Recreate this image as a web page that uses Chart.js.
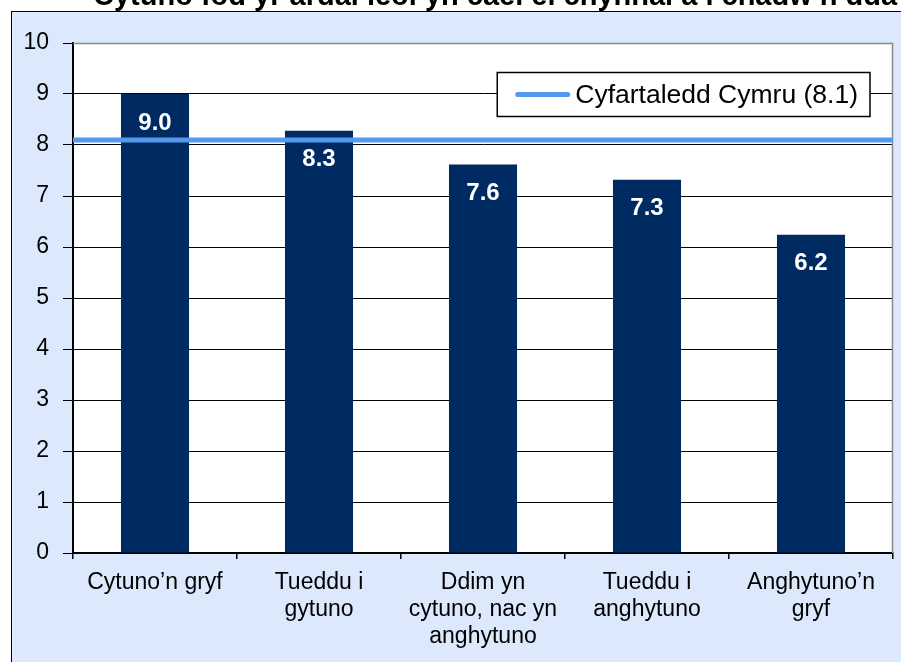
<!DOCTYPE html>
<html>
<head>
<meta charset="utf-8">
<script src="https://cdn.jsdelivr.net/npm/chart.js@4.4.1/dist/chart.umd.min.js"></script>
<style>
  html, body { margin: 0; padding: 0; background: #ffffff; overflow: hidden; }
  #frame { position: absolute; left: 11px; top: 11px; width: 900px; height: 660px;
           background: #DCE9FC; border-left: 1.5px solid #000; border-top: 1.5px solid #000; }
  #wrap { position: absolute; left: 0; top: 0; width: 901px; height: 662px; }
</style>
</head>
<body>
<div id="frame"></div>
<div id="wrap"><canvas id="c" width="901" height="662"></canvas></div>
<script>
const titleText = "Cytuno fod yr ardal leol yn cael ei chynnal a’i chadw’n dda";
const categories = [
  ["Cytuno’n gryf"],
  ["Tueddu i", "gytuno"],
  ["Ddim yn", "cytuno, nac yn", "anghytuno"],
  ["Tueddu i", "anghytuno"],
  ["Anghytuno’n", "gryf"]
];
const scores = [9.0, 8.28, 7.62, 7.32, 6.24];
const averageLabel = "Cyfartaledd Cymru (8.1)";
const averageValue = 8.1;
const yTicks = [0, 1, 2, 3, 4, 5, 6, 7, 8, 9, 10];

const FONT = "'Liberation Sans', Arial, Helvetica, sans-serif";
const BAR = "#002A62";
const LINE = "#5599EE";

const plotBg = {
  id: 'plotBg',
  beforeDraw(chart) {
    const { ctx, chartArea: a } = chart;
    ctx.save();
    ctx.fillStyle = '#ffffff';
    ctx.fillRect(a.left, a.top, a.right - a.left, a.bottom - a.top);
    ctx.restore();
  },
  beforeDatasetsDraw(chart) {
    const { ctx, chartArea: a } = chart;
    ctx.save();
    ctx.strokeStyle = '#8a8a8a';
    ctx.lineWidth = 1.5;
    ctx.beginPath();
    ctx.moveTo(a.left, a.top + 0.5);
    ctx.lineTo(a.right - 0.5, a.top + 0.5);
    ctx.lineTo(a.right - 0.5, a.bottom);
    ctx.stroke();
    ctx.restore();
  }
};

const titleAndLabels = {
  id: 'titleAndLabels',
  afterDatasetsDraw(chart) {
    const { ctx } = chart;
    const meta = chart.getDatasetMeta(0);
    ctx.save();
    ctx.fillStyle = '#ffffff';
    ctx.font = "bold 24px " + FONT;
    ctx.textAlign = 'center';
    ctx.textBaseline = 'middle';
    meta.data.forEach((bar, i) => {
      ctx.fillText(scores[i].toFixed(1), bar.x, bar.y + 29);
    });
    ctx.restore();
  },
  afterDraw(chart) {
    const { ctx, chartArea: a } = chart;
    ctx.save();
    ctx.fillStyle = '#000';
    ctx.font = "bold 29px " + FONT;
    ctx.textAlign = 'left';
    ctx.textBaseline = 'alphabetic';
    ctx.fillText(titleText, 93, 5);
    ctx.restore();

    const ds = chart.data.datasets[1];
    ctx.save();
    ctx.font = "26.5px " + FONT;
    const tw = ctx.measureText(ds.label).width;
    const boxRight = a.right - 23;
    const boxW = 18 + 55 + 5 + tw + 12;
    const boxLeft = boxRight - boxW;
    const boxTop = a.top + 29.5;
    const boxH = 44;
    ctx.fillStyle = '#ffffff';
    ctx.fillRect(boxLeft, boxTop, boxW, boxH);
    ctx.strokeStyle = '#000';
    ctx.lineWidth = 1.5;
    ctx.strokeRect(boxLeft, boxTop, boxW, boxH);
    const cy = boxTop + boxH / 2;
    ctx.strokeStyle = ds.borderColor;
    ctx.lineWidth = 5;
    ctx.lineCap = 'round';
    ctx.beginPath();
    ctx.moveTo(boxLeft + 18 + 2.5, cy);
    ctx.lineTo(boxLeft + 18 + 55 - 2.5, cy);
    ctx.stroke();
    ctx.fillStyle = '#000';
    ctx.textAlign = 'left';
    ctx.textBaseline = 'middle';
    ctx.fillText(ds.label, boxLeft + 18 + 55 + 5, cy + 1);
    ctx.restore();
  }
};

new Chart(document.getElementById('c'), {
  data: {
    labels: categories,
    datasets: [
      {
        type: 'bar',
        label: 'Sgôr',
        data: scores,
        backgroundColor: BAR,
        borderWidth: 0,
        grouped: false,
        barPercentage: 0.415,
        categoryPercentage: 1.0,
        xAxisID: 'x',
        yAxisID: 'y',
        order: 2
      },
      {
        type: 'line',
        label: averageLabel,
        data: [{ x: 0, y: averageValue }, { x: 1, y: averageValue }],
        borderColor: LINE,
        borderWidth: 5,
        pointRadius: 0,
        fill: false,
        xAxisID: 'xLine',
        yAxisID: 'y',
        order: 1
      }
    ]
  },
  options: {
    responsive: false,
    animation: false,
    devicePixelRatio: 1,
    layout: { padding: { left: 0, right: 8, top: 43, bottom: 0 } },
    plugins: {
      legend: { display: false },
      title: { display: false },
      tooltip: { enabled: false }
    },
    scales: {
      x: {
        type: 'category',
        offset: true,
        grid: {
          display: true,
          drawOnChartArea: false,
          drawTicks: true,
          tickLength: 6,
          offset: true,
          color: '#000',
          lineWidth: 1.5
        },
        border: { display: true, color: '#000', width: 2 },
        ticks: {
          color: '#000',
          font: { family: FONT, size: 23, lineHeight: 1.17 },
          padding: 10,
          maxRotation: 0,
          minRotation: 0,
          autoSkip: false
        },
        afterFit(scale) { scale.height = 109; }
      },
      xLine: {
        type: 'linear',
        min: 0,
        max: 1,
        display: false
      },
      y: {
        type: 'linear',
        min: 0,
        max: 10,
        afterBuildTicks(scale) { scale.ticks = yTicks.map(v => ({ value: v })); },
        grid: {
          color: (c) => (c.tick && c.tick.value === 10 ? '#8a8a8a' : '#000'),
          tickColor: '#000',
          lineWidth: 1,
          tickLength: 10,
          drawTicks: true
        },
        border: { display: true, color: '#000', width: 2 },
        ticks: {
          color: '#000',
          font: { family: FONT, size: 23 },
          padding: 14,
          callback: (v) => String(v)
        },
        afterFit(scale) { scale.width = 73; }
      }
    }
  },
  plugins: [plotBg, titleAndLabels]
});
</script>
</body>
</html>
